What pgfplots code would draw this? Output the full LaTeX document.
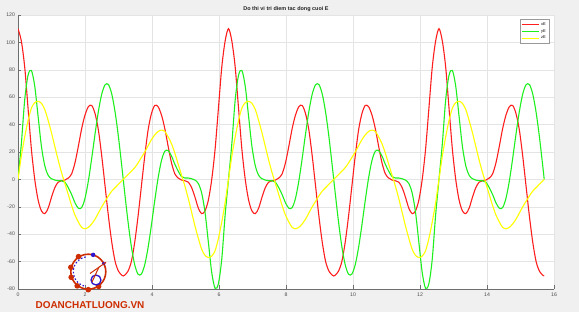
\documentclass[border=0pt]{standalone}
\usepackage{pgfplots}
\pgfplotsset{compat=1.18}
\usepackage{pgfplotstable}
\usepackage{fontspec}
\setmainfont{Liberation Sans}
\definecolor{figbg}{RGB}{240,240,240}
\definecolor{gridc}{RGB}{228,228,228}
\definecolor{axc}{RGB}{110,110,110}
\definecolor{wm}{RGB}{205,45,0}
\definecolor{wmblue}{RGB}{45,20,205}
\definecolor{mred}{RGB}{255,30,30}
\definecolor{mgreen}{RGB}{30,240,30}
\definecolor{myellow}{RGB}{255,255,0}

\pgfplotstableread{
t x y z
0 110 0 0
0.1 101 26 17
0.2 82 58 31
0.3 52 76 43
0.4 22 79.5 52
0.5 0 68 56
0.6 -15 46 57
0.7 -23 24 55.5
0.8 -25 10 51
0.9 -21 3 43
1.0 -13 0.5 34
1.1 -6 -0.5 24
1.2 -2 -1 14
1.3 -1 -1 5
1.4 -0.5 -2 -3
1.5 1 -6 -11
1.6 4 -11 -19
1.7 12 -17 -26
1.8 24 -21 -31
1.9 37 -20.6 -35
2.0 47 -13.8 -36
2.1 53 -1.2 -35
2.2 54 15.3 -32.5
2.3 48 33.2 -29
2.4 36 49.7 -24.5
2.5 17 62.3 -20
2.6 -5 69.1 -16
2.7 -27 69.2 -12
2.8 -46 62.2 -8.5
2.9 -60 48.9 -6
3.0 -67 30.7 -3.5
3.1 -70 9.3 -1
3.1416 -70.5 0 0
3.1832 -70 -9.3 1
3.2832 -67 -30.7 3.5
3.3832 -60 -48.9 6
3.4832 -46 -62.2 8.5
3.5832 -27 -69.2 12
3.6832 -5 -69.1 16
3.7832 17 -62.3 20
3.8832 36 -49.7 24.5
3.9832 48 -33.2 29
4.0832 54 -15.3 32.5
4.1832 53 1.2 35
4.2832 47 13.8 36
4.3832 37 20.6 35
4.4832 24 21 31
4.5832 12 17 26
4.6832 4 11 19
4.7832 1 6 11
4.8832 -0.5 2 3
4.9832 -1 1 -5
5.0832 -2 1 -14
5.1832 -6 0.5 -24
5.2832 -13 -0.5 -34
5.3832 -21 -3 -43
5.4832 -25 -10 -51
5.5832 -23 -24 -55.5
5.6832 -15 -46 -57
5.7832 0 -68 -56
5.8832 22 -79.5 -52
5.9832 52 -76 -43
6.0832 82 -58 -31
6.1832 101 -26 -17
6.2832 110 0 0
6.3832 101 26 17
6.4832 82 58 31
6.5832 52 76 43
6.6832 22 79.5 52
6.7832 0 68 56
6.8832 -15 46 57
6.9832 -23 24 55.5
7.0832 -25 10 51
7.1832 -21 3 43
7.2832 -13 0.5 34
7.3832 -6 -0.5 24
7.4832 -2 -1 14
7.5832 -1 -1 5
7.6832 -0.5 -2 -3
7.7832 1 -6 -11
7.8832 4 -11 -19
7.9832 12 -17 -26
8.0832 24 -21 -31
8.1832 37 -20.6 -35
8.2832 47 -13.8 -36
8.3832 53 -1.2 -35
8.4832 54 15.3 -32.5
8.5832 48 33.2 -29
8.6832 36 49.7 -24.5
8.7832 17 62.3 -20
8.8832 -5 69.1 -16
8.9832 -27 69.2 -12
9.0832 -46 62.2 -8.5
9.1832 -60 48.9 -6
9.2832 -67 30.7 -3.5
9.3832 -70 9.3 -1
9.4248 -70.5 0 0
9.4664 -70 -9.3 1
9.5664 -67 -30.7 3.5
9.6664 -60 -48.9 6
9.7664 -46 -62.2 8.5
9.8664 -27 -69.2 12
9.9664 -5 -69.1 16
10.0664 17 -62.3 20
10.1664 36 -49.7 24.5
10.2664 48 -33.2 29
10.3664 54 -15.3 32.5
10.4664 53 1.2 35
10.5664 47 13.8 36
10.6664 37 20.6 35
10.7664 24 21 31
10.8664 12 17 26
10.9664 4 11 19
11.0664 1 6 11
11.1664 -0.5 2 3
11.2664 -1 1 -5
11.3664 -2 1 -14
11.4664 -6 0.5 -24
11.5664 -13 -0.5 -34
11.6664 -21 -3 -43
11.7664 -25 -10 -51
11.8664 -23 -24 -55.5
11.9664 -15 -46 -57
12.0664 0 -68 -56
12.1664 22 -79.5 -52
12.2664 52 -76 -43
12.3664 82 -58 -31
12.4664 101 -26 -17
12.5664 110 0 0
12.6664 101 26 17
12.7664 82 58 31
12.8664 52 76 43
12.9664 22 79.5 52
13.0664 0 68 56
13.1664 -15 46 57
13.2664 -23 24 55.5
13.3664 -25 10 51
13.4664 -21 3 43
13.5664 -13 0.5 34
13.6664 -6 -0.5 24
13.7664 -2 -1 14
13.8664 -1 -1 5
13.9664 -0.5 -2 -3
14.0664 1 -6 -11
14.1664 4 -11 -19
14.2664 12 -17 -26
14.3664 24 -21 -31
14.4664 37 -20.6 -35
14.5664 47 -13.8 -36
14.6664 53 -1.2 -35
14.7664 54 15.3 -32.5
14.8664 48 33.2 -29
14.9664 36 49.7 -24.5
15.0664 17 62.3 -20
15.1664 -5 69.1 -16
15.2664 -27 69.2 -12
15.3664 -46 62.2 -8.5
15.4664 -60 48.9 -6
15.5664 -67 30.7 -3.5
15.6664 -70 9.3 -1
15.708 -70.5 0 0
}\data

\begin{document}
\begin{tikzpicture}
\useasboundingbox (0,0) rectangle (579bp,312bp);
\fill[figbg] (0,0) rectangle (579bp,312bp);
\begin{axis}[
  at={(18bp,23bp)}, anchor=south west,
  scale only axis, width=536bp, height=274bp,
  xmin=0, xmax=16, ymin=-80, ymax=120,
  xtick={0,2,...,16}, ytick={-80,-60,...,120},
  axis background/.style={fill=white},
  grid=major, major grid style={gridc, line width=0.4bp},
  axis x line*=bottom, axis y line*=left,
  axis line style={axc, line width=0.5bp, -},
  tick align=inside, major tick length=3.5bp,
  tick style={axc, line width=0.5bp},
  ticklabel style={font=\fontsize{5.2}{6}\selectfont, text=black!70},
  xticklabel style={yshift=-0.5bp},
  yticklabel style={xshift=0.5bp},
  /pgf/number format/assume math mode=true,
  every axis title shift=0pt,
  title={Do thi vi tri diem tac dong cuoi E},
  title style={at={(0.5,1)}, anchor=base, yshift=4.5bp, inner sep=0pt,
    font=\bfseries\fontsize{5.5}{6}\selectfont, text=black!85},
  legend style={at={(0.9907,0.984)}, anchor=north east, draw=gray!80,
    font=\fontsize{4}{4.5}\selectfont, inner sep=1bp, row sep=-1.5bp,
    fill=white},
  legend cell align=left,
]
\addplot[mred, line width=1.1bp, smooth] table[x=t, y=x] {\data};
\addplot[mgreen, line width=1.1bp, smooth] table[x=t, y=y] {\data};
\addplot[myellow, line width=1.1bp, smooth] table[x=t, y=z] {\data};
\legend{xE, yE, zE}
\end{axis}
% watermark logo
\draw[wm, line width=1.6bp] (88.3bp,40.3bp) circle (17.5bp);
\foreach \a in {123,166,198,232,270,305} {
  \fill[wm] (88.3bp,40.3bp) ++(\a:18bp) circle (2.8bp);
}
\draw[wmblue, line width=1.2bp, dash pattern=on 1.5bp off 2bp] (88.3bp,40.3bp) ++(100:15bp) arc (100:260:15bp);
\fill[wmblue] (88.3bp,40.3bp) ++(74:17.5bp) circle (2.2bp);
\fill[wmblue] (88.3bp,40.3bp) ++(28:17.5bp) circle (1.8bp);
\draw[wmblue, line width=1.3bp] (96bp,32bp) circle (5bp);
\draw[wm, line width=1bp] (90bp,38.5bp) -- (106bp,49.7bp);
\draw[wm, line width=1bp] (92bp,30bp) -- (99bp,45bp);
\node[wm, font=\bfseries\fontsize{10}{10}\selectfont, inner sep=0pt] at (90bp,7bp) {DOANCHATLUONG.VN};
\end{tikzpicture}
\end{document}
